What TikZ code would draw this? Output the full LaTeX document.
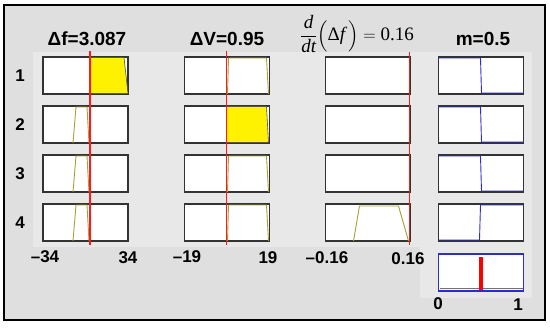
\documentclass[tikz,border=0pt]{standalone}
\usepackage{amsmath}
\usepackage{exscale}
\usepackage{fontspec}
\setmainfont{Liberation Sans}
\newfontfamily\timesfont{Liberation Serif}
\usetikzlibrary{positioning,calc}
\definecolor{panelgray}{HTML}{DFDFDF}
\definecolor{plotgray}{HTML}{E8E8E8}
\definecolor{mfolive}{RGB}{165,160,60}
\definecolor{mfblue}{RGB}{45,45,205}
\tikzset{
    % Membership function boxes
    mfbox/.style={
        draw=black!80,
        fill=white,
        line width=1.2pt,
        minimum width=85pt,
        minimum height=37pt,
        inner sep=0pt,
        outer sep=0pt
    },
    % Aggregated output box
    outbox/.style={
        mfbox,
        draw=mfblue
    },
    % Column headings
    heading/.style={
        font=\fontsize{19}{21}\selectfont\bfseries
    },
    mathheading/.style={
        font=\fontsize{19}{21}\selectfont,
        inner sep=0pt
    },
    % Rule numbers and axis limits
    rulelabel/.style={
        font=\fontsize{17}{19}\selectfont\bfseries
    },
    axislabel/.style={
        font=\fontsize{17}{19}\selectfont\bfseries
    },
    % Lines
    cutline/.style={
        red!90,
        line width=1.1pt
    },
    mfline/.style={
        mfolive,
        line width=0.9pt
    },
    stepline/.style={
        mfblue,
        line width=0.9pt
    },
    firedarea/.style={
        fill=yellow,
        draw=black!70,
        line width=0.6pt
    }
}

\begin{document}
\begin{tikzpicture}[x=1pt, y=-1pt]

\useasboundingbox (0,0) rectangle (550,328);

% === FRAME ===
\draw[fill=panelgray, line width=2.4pt] (4,5) rectangle (545,320);
\fill[plotgray] (33,52) rectangle (532,247);
\fill[plotgray] (420,247) rectangle (532,298);

% === RULE ROWS ===
\foreach \r/\y in {1/75.5, 2/124.5, 3/173.5, 4/222.5}{
    \node[rulelabel] (rule\r) at (20,\y) {\r};
    \node[mfbox] (df\r) at (85.5,\y) {};
    \node[mfbox] (dv\r) at (227,\y) {};
    \node[mfbox] (dd\r) at (368,\y) {};
    \node[mfbox] (m\r) at (481,\y) {};
}

% Output aggregate
\node[outbox] (mout) at (481,272.5) {};

% === DELTA F COLUMN ===
\filldraw[firedarea] ($(df1.south west)+(47,-0.6)$) -- ($(df1.north west)+(47,0.6)$)
    -- ($(df1.north west)+(81,0.6)$) -- ($(df1.south west)+(85,-0.6)$) -- cycle;
\foreach \r in {2,3,4}{
    \draw[mfline] ($(df\r.south west)+(30,0)$) -- ($(df\r.north west)+(33,1)$)
        -- ($(df\r.north west)+(44,1)$) -- ($(df\r.south west)+(46,0)$);
}

% === DELTA V COLUMN ===
\filldraw[firedarea] ($(dv2.south west)+(42,-0.6)$) -- ($(dv2.north west)+(42,0.6)$)
    -- ($(dv2.north west)+(82,0.6)$) -- ($(dv2.south west)+(84,-0.6)$) -- cycle;
\foreach \r in {1,3,4}{
    \draw[mfline] ($(dv\r.south west)+(43,0)$) -- ($(dv\r.north west)+(44,1)$)
        -- ($(dv\r.north west)+(82,1)$) -- ($(dv\r.south west)+(84,0)$);
}

% === D/DT COLUMN ===
\draw[mfline] ($(dd4.south west)+(28,0)$) -- ($(dd4.north west)+(34,2)$)
    -- ($(dd4.north west)+(73,2)$) -- ($(dd4.south west)+(83,0)$);

% === M COLUMN ===
\foreach \r in {1,2,3}{
    \draw[stepline] ($(m\r.north west)+(0,1)$) -- ($(m\r.north west)+(42,1)$)
        -- ($(m\r.south west)+(43,-1)$) -- ($(m\r.south east)+(0,-1)$);
}
\draw[stepline] ($(m4.south west)+(0,-1)$) -- ($(m4.south west)+(41,-1)$)
    -- ($(m4.north west)+(42,1)$) -- ($(m4.north east)+(0,1)$);

\draw[black!55, line width=0.8pt] ($(mout.south west)+(1,-3)$) -- ($(mout.south east)+(-1,-3)$);
\draw[red, line width=3.2pt] ($(mout.north)+(0,3)$) -- ($(mout.south)+(0,-1)$);

% === INPUT VALUE LINES ===
\draw[cutline] ($(df1.north west)+(47,-6)$) -- ($(df4.south west)+(47,4)$);
\draw[cutline] ($(dv1.north west)+(42,-6)$) -- ($(dv4.south west)+(42,4)$);
\draw[cutline] ($(dd1.north west)+(84,-5)$) -- ($(dd4.south west)+(84,4)$);

% === HEADINGS ===
\node[heading] (dfhead) at (87,39) {Δf=3.087};
\node[heading] (dvhead) at (227,39) {ΔV=0.95};
\node[mathheading] (ddhead) at (357,34) {$\displaystyle\frac{\hbox{\timesfont\itshape d}}{\hbox{\timesfont\itshape dt}}\Bigl(\hbox{\timesfont Δ\itshape f\,}\Bigr)=\hbox{\timesfont 0.16}$};
\node[heading] (mhead) at (483,39) {m=0.5};

% === AXIS LIMITS ===
\node[axislabel] (dfmin) at (45,257) {–34};
\node[axislabel] (dfmax) at (128,258) {34};
\node[axislabel] (dvmin) at (187,257) {–19};
\node[axislabel] (dvmax) at (268,258) {19};
\node[axislabel] (ddmin) at (327,258) {–0.16};
\node[axislabel] (ddmax) at (408,259) {0.16};
\node[axislabel] (mmin) at (438,304) {0};
\node[axislabel] (mmax) at (518,305) {1};

\end{tikzpicture}
\end{document}
